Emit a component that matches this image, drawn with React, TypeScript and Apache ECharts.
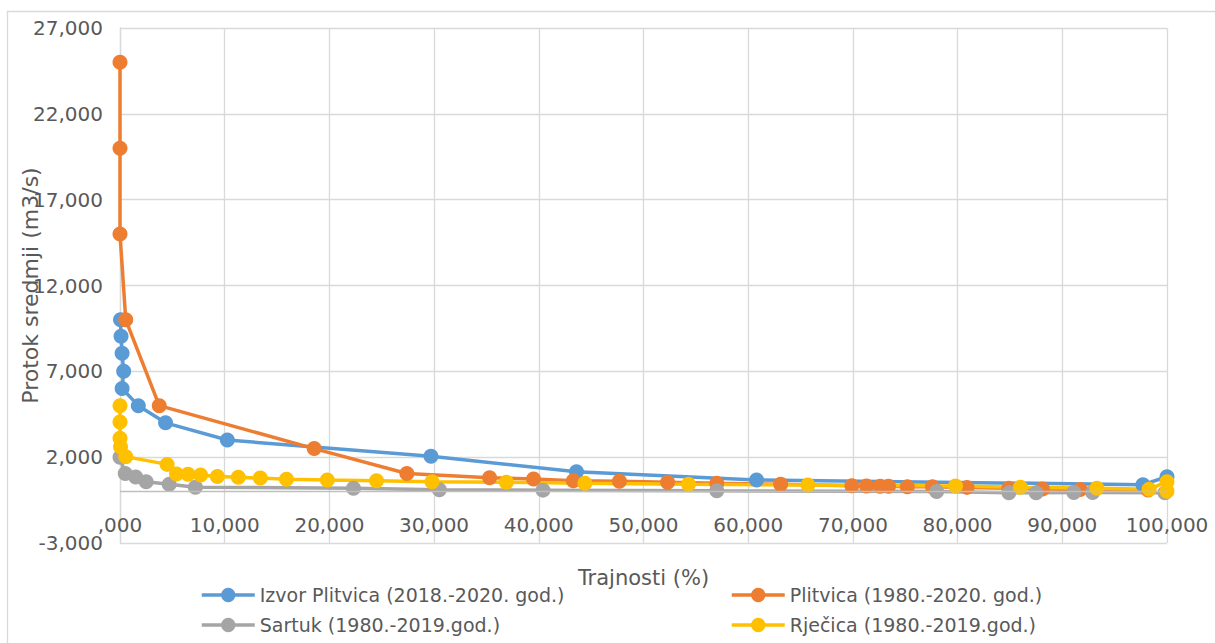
import React, { useEffect, useRef } from "react";
import * as echarts from "echarts";

const izvorX = [0.05, 0.1, 0.2, 0.35, 0.2, 1.75, 4.35, 10.25, 29.7, 43.6, 60.8, 97.7, 100];
const izvorY = [10.0, 9.05, 8.05, 7.0, 6.0, 5.0, 4.0, 3.0, 2.05, 1.15, 0.67, 0.4, 0.86];

const plitvicaX = [0, 0, 0, 0.55, 3.75, 18.55, 27.4, 35.3, 39.5, 43.3, 47.7, 52.3, 57.0, 63.1, 69.9, 71.3, 72.6, 73.4, 75.2, 77.6, 80.9, 84.9, 88.1, 91.7, 98.2];
const plitvicaY = [25, 20, 15, 10, 5, 2.5, 1.05, 0.8, 0.73, 0.62, 0.6, 0.54, 0.48, 0.42, 0.33, 0.32, 0.31, 0.3, 0.28, 0.27, 0.24, 0.19, 0.14, 0.12, 0.09];

const sartukX = [0, 0.5, 1.5, 2.5, 4.7, 7.2, 22.3, 30.5, 40.4, 57.0, 78.0, 84.9, 87.5, 91.1, 92.9, 99.8];
const sartukY = [2.0, 1.05, 0.85, 0.57, 0.42, 0.25, 0.19, 0.1, 0.08, 0.04, 0.0, -0.08, -0.08, -0.06, -0.06, -0.08];

const rjecicaX = [0, 0, 0, 0.05, 0.55, 4.5, 5.4, 6.5, 7.7, 9.3, 11.3, 13.4, 15.9, 19.8, 24.5, 29.8, 36.9, 44.4, 54.3, 65.7, 79.8, 86.0, 93.3, 98.3, 100, 100];
const rjecicaY = [5.0, 4.05, 3.1, 2.6, 2.03, 1.58, 1.02, 1.0, 0.96, 0.87, 0.83, 0.78, 0.72, 0.67, 0.63, 0.57, 0.54, 0.48, 0.42, 0.38, 0.32, 0.25, 0.19, 0.13, 0.57, 0.02];

const seriesNames = [
  "Izvor Plitvica (2018.-2020. god.)",
  "Plitvica (1980.-2020. god.)",
  "Sartuk (1980.-2019.god.)",
  "Rječica (1980.-2019.god.)",
];
const seriesColors = ["#5b9bd5", "#ed7d31", "#a5a5a5", "#ffc000"];

const yTicks = [-3, 2, 7, 12, 17, 22, 27];
const xTitle = "Trajnosti (%)";
const yTitle = "Protok sredmji (m3/s)";

const zip = (xs: number[], ys: number[]) => xs.map((x, i) => [x, ys[i]]);
const fmt = (v: number) => (v === 0 ? ",000" : `${v},000`);

const FONT = "DejaVu Sans";
const TXT = "#595959";

export default function App() {
  const ref = useRef<HTMLDivElement>(null);
  useEffect(() => {
    if (!ref.current) return;
    const chart = echarts.init(ref.current, undefined, { renderer: "svg" });
    const datas = [
      zip(izvorX, izvorY),
      zip(plitvicaX, plitvicaY),
      zip(sartukX, sartukY),
      zip(rjecicaX, rjecicaY),
    ];
    const legendCommon = {
      orient: "vertical",
      top: 584,
      padding: 0,
      itemWidth: 53,
      itemHeight: 18,
      itemGap: 8,
      lineStyle: { width: 3.5 },
      textStyle: { fontFamily: FONT, fontSize: 19, color: TXT, lineHeight: 22 },
    };
    chart.setOption({
      animation: false,
      backgroundColor: "#ffffff",
      textStyle: { fontFamily: FONT },
      graphic: [
        {
          type: "rect",
          shape: { x: 7.5, y: 11.5, width: 1230, height: 650 },
          style: { fill: "none", stroke: "#d9d9d9", lineWidth: 1.3 },
          silent: true,
        },
      ],
      grid: { left: 120, right: 48, top: 28, bottom: 100, containLabel: false, outerBoundsMode: "none" },
      legend: [
        { ...legendCommon, left: 200, data: [seriesNames[0], seriesNames[2]] },
        { ...legendCommon, left: 730, data: [seriesNames[1], seriesNames[3]] },
      ],
      xAxis: {
        type: "value",
        min: 0,
        max: 100,
        interval: 10,
        name: xTitle,
        nameLocation: "middle",
        nameGap: 24,
        nameMoveOverlap: false,
        nameTextStyle: { fontFamily: FONT, fontSize: 21, color: TXT },
        axisLine: { show: false, onZero: false },
        axisTick: { show: false },
        axisLabel: { formatter: fmt, fontFamily: FONT, fontSize: 20, color: TXT, inside: true, margin: 8 },
        splitLine: { show: true, lineStyle: { color: "#d9d9d9", width: 1.3 } },
      },
      yAxis: {
        type: "value",
        min: -3,
        max: 27,
        name: yTitle,
        nameLocation: "middle",
        nameRotate: 90,
        nameGap: 79,
        nameMoveOverlap: false,
        nameTextStyle: { fontFamily: FONT, fontSize: 22, color: TXT },
        axisLine: { show: true, onZero: false, lineStyle: { color: "#d9d9d9", width: 1.3 } },
        axisTick: { show: false, customValues: yTicks },
        axisLabel: { customValues: yTicks, formatter: fmt, fontFamily: FONT, fontSize: 20, color: TXT, margin: 17 },
        splitLine: { show: true, lineStyle: { color: "#d9d9d9", width: 1.3 } },
      },
      series: datas.map((d, i) => ({
        name: seriesNames[i],
        type: "line",
        data: d,
        symbol: "circle",
        symbolSize: 15,
        color: seriesColors[i],
        lineStyle: { width: 3.5, color: seriesColors[i] },
        itemStyle: { color: seriesColors[i] },
        emphasis: { disabled: true },
        markLine:
          i === 0
            ? {
                silent: true,
                symbol: "none",
                label: { show: false },
                lineStyle: { color: "#bfbfbf", type: "solid", width: 1.3 },
                data: [{ yAxis: 0 }],
              }
            : undefined,
      })),
    });
    return () => chart.dispose();
  }, []);
  return (
    <div
      ref={ref}
      style={{ position: "fixed", left: 0, top: 0, width: 1215, height: 643 }}
    />
  );
}
